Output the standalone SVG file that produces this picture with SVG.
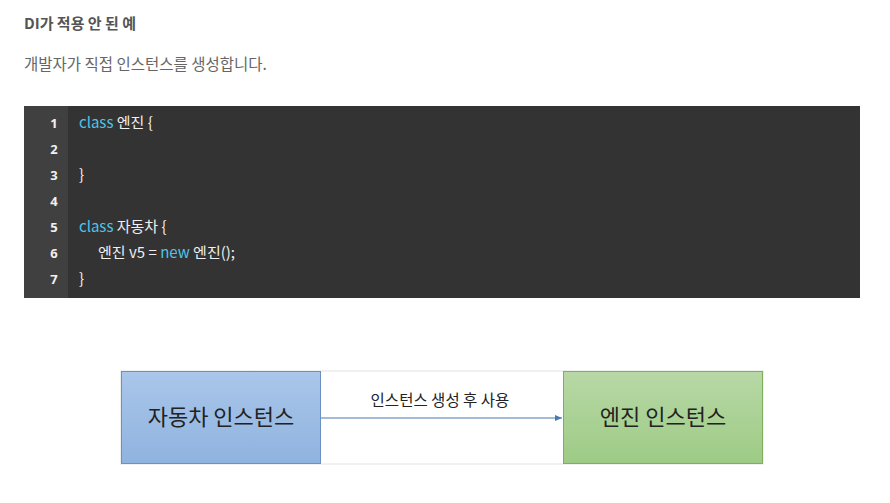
<svg xmlns="http://www.w3.org/2000/svg" width="890" height="503" viewBox="0 0 890 503">
<style>
.t{font-family:"Noto Sans CJK KR","Noto Sans",sans-serif}
.code{font-family:"Noto Sans CJK KR","Noto Sans",sans-serif;font-size:15px;fill:#f0f0f0}
.kw{fill:#4fc3e8}
.ln{font-family:"Noto Sans","Noto Sans CJK KR",sans-serif;font-size:13px;fill:#f0f0f0;text-anchor:middle;font-weight:bold}
.node{font-family:"Noto Sans CJK KR",sans-serif;font-size:22px;fill:#222;text-anchor:middle}
</style>
<defs>
<linearGradient id="gb" x1="0" y1="0" x2="0" y2="1"><stop offset="0" stop-color="#aac6ea"/><stop offset="1" stop-color="#8fb3df"/></linearGradient>
<linearGradient id="gg" x1="0" y1="0" x2="0" y2="1"><stop offset="0" stop-color="#b8d8a6"/><stop offset="1" stop-color="#9dcb85"/></linearGradient>
<marker id="ar" markerWidth="8" markerHeight="8" refX="7" refY="4" orient="auto" markerUnits="userSpaceOnUse"><path d="M0,1 L7,4 L0,7 Z" fill="#4a78b0"/></marker>
</defs>
<rect width="890" height="503" fill="#fff"/>
<text class="t" x="24" y="29" font-size="15" font-weight="bold" fill="#555">DI가 적용 안 된 예</text>
<text class="t" x="24" y="70" font-size="15.5" fill="#666">개발자가 직접 인스턴스를 생성합니다.</text>
<g id="code">
<rect x="24" y="106" width="836" height="192" fill="#333"/>
<rect x="24" y="106" width="44" height="192" fill="#404040"/>
<text class="ln" x="54" y="128">1</text>
<text class="ln" x="54" y="154">2</text>
<text class="ln" x="54" y="180">3</text>
<text class="ln" x="54" y="206">4</text>
<text class="ln" x="54" y="232">5</text>
<text class="ln" x="54" y="258">6</text>
<text class="ln" x="54" y="284">7</text>
<text class="code" x="79" y="128"><tspan class="kw">class</tspan> 엔진 {</text>
<text class="code" x="79" y="180">}</text>
<text class="code" x="79" y="232"><tspan class="kw">class</tspan> 자동차 {</text>
<text class="code" x="98" y="258">엔진 v5 = <tspan class="kw">new</tspan> 엔진();</text>
<text class="code" x="79" y="284">}</text>
</g>
<rect x="121" y="371" width="642" height="93" fill="#fff" stroke="#e2e2e2"/>
<g id="car">
<rect x="121.5" y="371.5" width="199" height="92" fill="url(#gb)" stroke="#6d90c2"/>
<text class="node" x="221" y="425">자동차 인스턴스</text>
</g>
<g id="engine">
<rect x="563.5" y="371.5" width="199" height="92" fill="url(#gg)" stroke="#7fae5f"/>
<text class="node" x="663" y="425">엔진 인스턴스</text>
</g>
<g id="connectors">
<line x1="321" y1="418" x2="562" y2="418" stroke="#4a78b0" stroke-width="1" marker-end="url(#ar)"/>
<text class="t" x="440" y="406" font-size="15.5" fill="#222" text-anchor="middle">인스턴스 생성 후 사용</text>
</g>
</svg>
